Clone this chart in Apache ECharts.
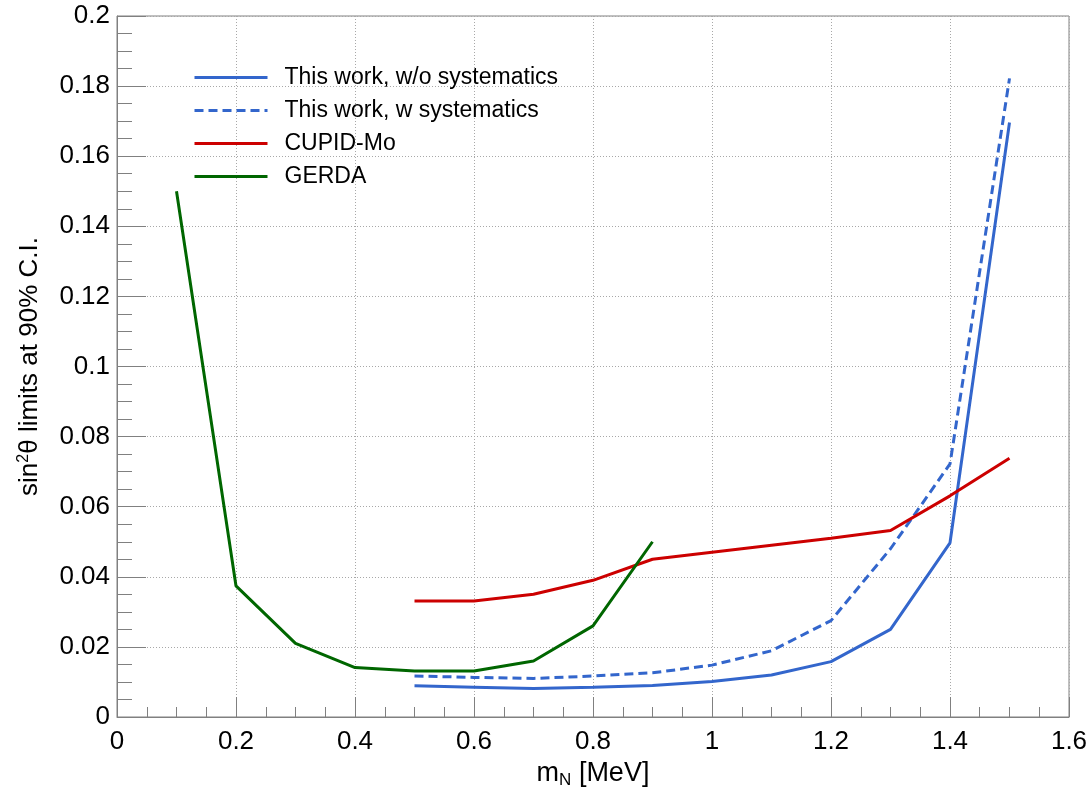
<!DOCTYPE html>
<html>
<head>
<meta charset="utf-8">
<script src="https://cdn.jsdelivr.net/npm/echarts@6/dist/echarts.min.js"></script>
<style>html,body{margin:0;padding:0;background:#fff}#c{width:1090px;height:790px}</style>
</head>
<body>
<div id="c"></div>
<script>
// Data
var massThisWork = [0.5, 0.6, 0.7, 0.8, 0.9, 1.0, 1.1, 1.2, 1.3, 1.4, 1.5];
var noSyst = [0.0089, 0.0085, 0.0081, 0.0085, 0.009, 0.0101, 0.012, 0.0158, 0.025, 0.0497, 0.1696];
var withSyst = [0.0117, 0.0113, 0.011, 0.0117, 0.0126, 0.0148, 0.0189, 0.0275, 0.048, 0.0722, 0.1822];
var massCupid = [0.5, 0.6, 0.7, 0.8, 0.9, 1.0, 1.1, 1.2, 1.3, 1.4, 1.5];
var cupidMo = [0.0331, 0.0331, 0.035, 0.039, 0.045, 0.047, 0.049, 0.051, 0.0532, 0.0631, 0.0738];
var massGerda = [0.1, 0.2, 0.3, 0.4, 0.5, 0.6, 0.7, 0.8, 0.9];
var gerda = [0.150, 0.0374, 0.021, 0.0141, 0.0131, 0.0131, 0.016, 0.026, 0.050];
var seriesNames = ['This work, w/o systematics', 'This work, w systematics', 'CUPID-Mo', 'GERDA'];
var xTicks = [0, 0.2, 0.4, 0.6, 0.8, 1, 1.2, 1.4, 1.6];
var yTicks = [0, 0.02, 0.04, 0.06, 0.08, 0.1, 0.12, 0.14, 0.16, 0.18, 0.2];

function pairs(xs, ys) { return xs.map(function (x, i) { return [x, ys[i]]; }); }

var FONT = '"Liberation Sans", Arial, Helvetica, sans-serif';
var BLUE = '#3366cc', RED = '#cc0000', GREEN = '#006600';

var chart = echarts.init(document.getElementById('c'), null, {renderer: 'canvas'});
chart.setOption({
  animation: false,
  backgroundColor: '#ffffff',
  textStyle: {fontFamily: FONT},
  grid: {left: 117, right: 21, top: 16, bottom: 73, show: true, borderColor: '#808080', borderWidth: 1,
    containLabel: false, outerBoundsMode: 'none'},
  legend: {
    orient: 'vertical', left: 188, top: 61,
    itemWidth: 73, itemHeight: 23, itemGap: 10,
    itemStyle: {color: 'rgba(0,0,0,0)', borderColor: 'rgba(0,0,0,0)', borderWidth: 0},
    lineStyle: {width: 3},
    textStyle: {fontFamily: FONT, fontSize: 23, color: '#000', padding: [0, 0, 0, 12]},
    data: seriesNames
  },
  xAxis: {
    type: 'value', min: 0, max: 1.6, interval: 0.2,
    name: '{m|m}{s|N}{m| [MeV]}', nameLocation: 'middle', nameGap: 38,
    nameTextStyle: {rich: {m: {fontFamily: FONT, fontSize: 27, color: '#000'}, s: {fontFamily: FONT, fontSize: 17, color: '#000', verticalAlign: 'bottom', padding: [14, 0, 0, 0]}}},
    axisLine: {show: true, lineStyle: {color: '#808080', width: 1}},
    axisTick: {show: true, inside: true, length: 20, lineStyle: {color: '#808080', width: 1}},
    minorTick: {show: true, splitNumber: 4, length: 10, lineStyle: {color: '#808080', width: 1}},
    splitLine: {show: true, lineStyle: {color: '#a8a8a8', type: [1, 2], width: 1}},
    axisLabel: {fontFamily: FONT, fontSize: 26, color: '#000', margin: 12,
      formatter: function (v) { return String(parseFloat(v.toFixed(2))); }}
  },
  yAxis: {
    type: 'value', min: 0, max: 0.2, interval: 0.02,
    name: '{m|sin}{s|2}{m|θ limits at 90% C.I.}', nameLocation: 'middle', nameGap: 73,
    nameTextStyle: {rich: {m: {fontFamily: FONT, fontSize: 26, color: '#000'}, s: {fontFamily: FONT, fontSize: 16, color: '#000', verticalAlign: 'top', padding: [0, 0, 12, 0]}}},
    axisLine: {show: true, lineStyle: {color: '#808080', width: 1}},
    axisTick: {show: true, inside: true, length: 29, lineStyle: {color: '#808080', width: 1}},
    minorTick: {show: true, splitNumber: 4, length: 15, lineStyle: {color: '#808080', width: 1}},
    splitLine: {show: true, lineStyle: {color: '#a8a8a8', type: [1, 2], width: 1}},
    axisLabel: {fontFamily: FONT, fontSize: 26, color: '#000', margin: 7,
      formatter: function (v) { return String(parseFloat(v.toFixed(3))); }}
  },
  series: [
    {name: seriesNames[0], type: 'line', symbol: 'none', data: pairs(massThisWork, noSyst),
      lineStyle: {color: BLUE, width: 3}, itemStyle: {color: BLUE}},
    {name: seriesNames[1], type: 'line', symbol: 'none', data: pairs(massThisWork, withSyst),
      lineStyle: {color: BLUE, width: 3, type: [9, 5]}, itemStyle: {color: BLUE}},
    {name: seriesNames[2], type: 'line', symbol: 'none', data: pairs(massCupid, cupidMo),
      lineStyle: {color: RED, width: 3}, itemStyle: {color: RED}},
    {name: seriesNames[3], type: 'line', symbol: 'none', data: pairs(massGerda, gerda),
      lineStyle: {color: GREEN, width: 3}, itemStyle: {color: GREEN}}
  ]
});
</script>
</body>
</html>
